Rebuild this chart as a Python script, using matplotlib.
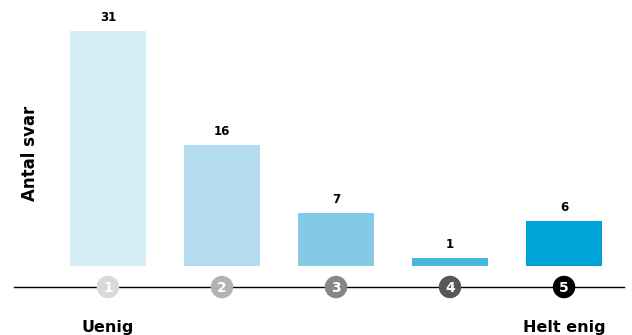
import matplotlib.pyplot as plt

# survey answers on a 1-5 scale
categories = ['1', '2', '3', '4', '5']
counts = [31, 16, 7, 1, 6]
bar_colors = ['#d6ecf7', '#b3dcee', '#84c9e8', '#47b5de', '#00a3d6']
dot_colors = ['#d9d9d9', '#b3b3b3', '#878787', '#575757', '#000000']

plt.rcParams['font.family'] = ['DejaVu Sans']

fig = plt.figure(figsize=(6.32, 3.35), dpi=100)
ax = fig.add_axes([0, 0, 1, 1])
ax.set_xlim(-0.947, 4.596)
ax.set_ylim(-9.10, 35.09)
ax.axis('off')

x = list(range(len(categories)))
bars = ax.bar(x, counts, width=0.667, color=bar_colors)

for xi, c in zip(x, counts):
    ax.annotate(str(c), (xi, c), xytext=(0, 5), textcoords='offset points',
                ha='center', va='bottom', fontsize=8.5, fontweight='bold')

# scale line with numbered dots
axis_y = -2.77
ax.plot([-0.825, 4.526], [axis_y, axis_y], color='black', lw=1, zorder=1)
ax.scatter(x, [axis_y] * 5, s=230, c=dot_colors, zorder=2)
for xi, lab in zip(x, categories):
    ax.text(xi, axis_y - 0.1, lab, ha='center', va='center', color='white',
            fontsize=10, fontweight='bold', zorder=3)

ax.text(0, -8.05, 'Uenig', ha='center', va='center', fontsize=11.5, fontweight='bold')
ax.text(4, -8.05, 'Helt enig', ha='center', va='center', fontsize=11.5, fontweight='bold')
ax.text(-0.684, 14.9, 'Antal svar', ha='center', va='center', rotation=90,
        fontsize=12, fontweight='bold')

fig.savefig('out.png', dpi=100)
